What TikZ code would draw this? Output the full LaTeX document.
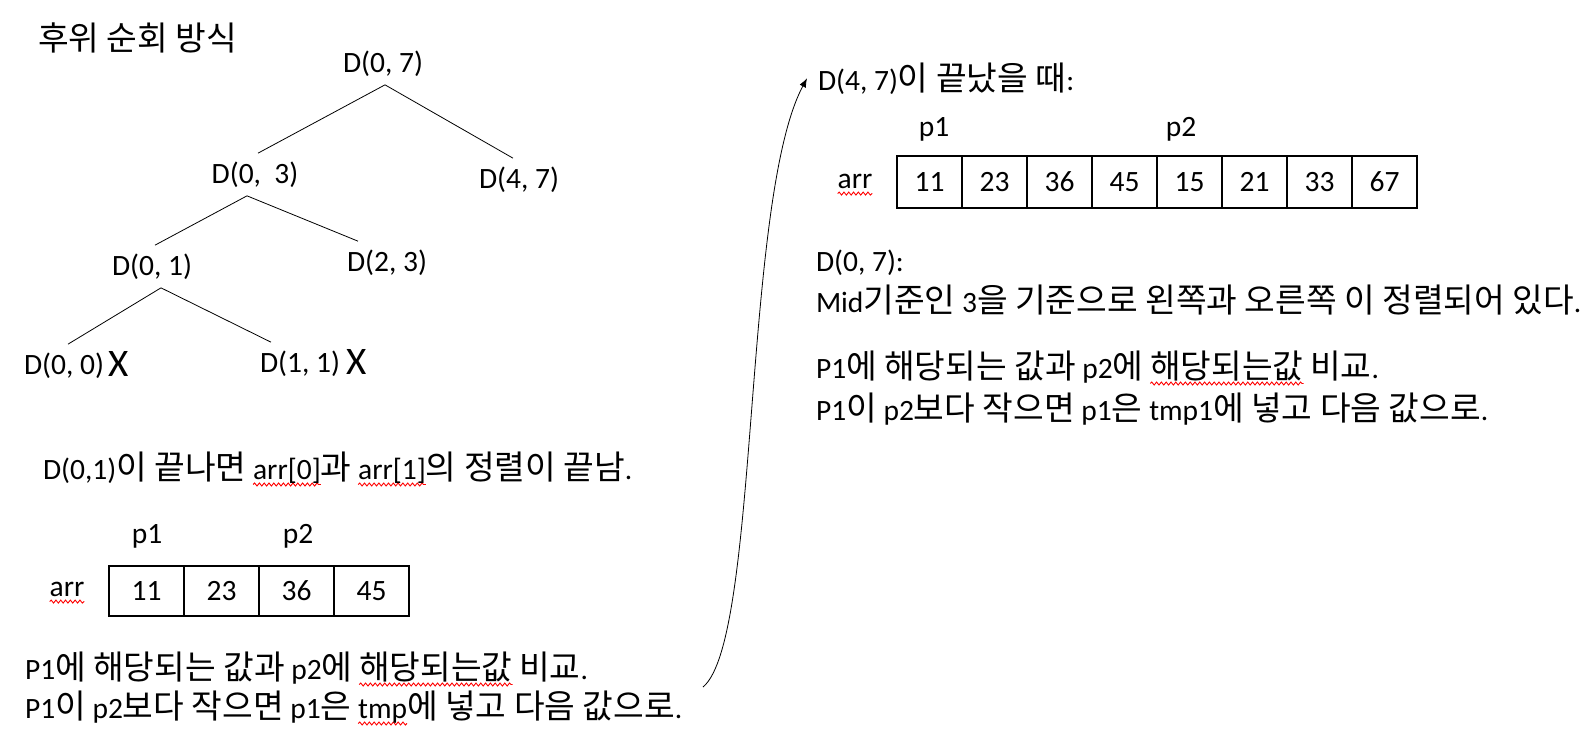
\documentclass[tikz,border=0pt]{standalone}
\usepackage{fontspec}
\setmainfont{Carlito}
\newfontfamily\krfont[Scale=1.13]{Noto Sans CJK KR}
\usetikzlibrary{arrows.meta,decorations.pathmorphing}
\newcommand\hk[1]{{\krfont #1}}
\newcommand\bodyfont{\fontsize{29.5}{38}\selectfont}
\newlength\rwlen
\newcommand\rw[1]{\settowidth\rwlen{#1}\rlap{\tikz[overlay]\draw[red,line width=0.9pt,decorate,decoration={snake,amplitude=1.5pt,segment length=4.8pt}] (0pt,-5.5pt) -- (\rwlen,-5.5pt);}#1}
\begin{document}
\begin{tikzpicture}[x=1pt,y=-1pt,
  lbl/.style={inner sep=0pt,outer sep=0pt,font=\bodyfont},
  tnode/.style={inner sep=0pt,outer sep=0pt,font=\bodyfont},
  xmark/.style={inner sep=0pt,outer sep=0pt,font=\fontsize{39}{42}\selectfont},
  conn/.style={line width=0.8pt},
  cellA/.style={draw,line width=1.2pt,minimum width=75pt,minimum height=50pt,inner sep=0pt,outer sep=0pt,font=\bodyfont},
  cellB/.style={cellA,minimum width=65pt,minimum height=52pt}]
\fill[white] (0,0) rectangle (1594,740);
\useasboundingbox (0,0) rectangle (1594,740);

% title
\node[lbl,anchor=base west] (title) at (38,50) {\fontsize{29.5}{36}\selectfont\hk{후위 순회 방식}};

% tree
\node[tnode] (r) at (383,64) {D(0, 7)};
\node[tnode] (a) at (255,175) {D(0,\ \ 3)};
\node[tnode] (b) at (519,180) {D(4, 7)};
\node[tnode] (c) at (152,267) {D(0, 1)};
\node[tnode] (d) at (387,263) {D(2, 3)};
\node[tnode] (e) at (64,366) {D(0, 0)};
\node[xmark] (ex) at (119,364) {X};
\node[tnode] (f) at (300,364) {D(1, 1)};
\node[xmark] (fx) at (357,362) {X};

\draw[conn] ([shift={(2,8)}]r.south) -- ([shift={(3,-9)}]a.north);
\draw[conn] ([shift={(2,8)}]r.south) -- ([shift={(-6,-9)}]b.north);
\draw[conn] ([shift={(-8,8)}]a.south) -- ([shift={(3,-9)}]c.north);
\draw[conn] ([shift={(-8,8)}]a.south) -- ([shift={(-29,-9)}]d.north);
\draw[conn] ([shift={(9,8)}]c.south) -- ([shift={(4,-9)}]e.north);
\draw[conn] ([shift={(9,8)}]c.south) -- ([shift={(-29,-9)}]f.north);

% left text
\node[lbl,anchor=base west] (t1) at (43,479) {D(0,1)\hk{이 끝나면} \rw{arr[0]}\hk{과} \rw{arr[1]}\hk{의 정렬이 끝남}.};

\node[lbl] (lp1) at (147,536) {p1};
\node[lbl] (lp2) at (298,536) {p2};
\node[lbl] (larr) at (67,589) {\rw{arr}};
\node[cellA] (l1) at (146.5,591) {11};
\node[cellA] (l2) at (221.5,591) {23};
\node[cellA] (l3) at (296.5,591) {36};
\node[cellA] (l4) at (371.5,591) {45};

\node[lbl,anchor=base west] (t2) at (25,679) {P1\hk{에 해당되는 값과} p2\hk{에} \rw{\hk{해당되는값}} \hk{비교}.};
\node[lbl,anchor=base west] (t3) at (25,718) {P1\hk{이} p2\hk{보다 작으면} p1\hk{은} \rw{tmp}\hk{에 넣고 다음 값으로}.};

% right text
\node[lbl,anchor=base west] (rt) at (818,90) {D(4, 7)\hk{이 끝났을 때}:};
\node[lbl] (rp1) at (934,129) {p1};
\node[lbl] (rp2) at (1181,129) {p2};
\node[lbl] (rarr) at (855,181) {\rw{arr}};
\node[cellB] (r1) at (929.5,182) {11};
\node[cellB] (r2) at (994.5,182) {23};
\node[cellB] (r3) at (1059.5,182) {36};
\node[cellB] (r4) at (1124.5,182) {45};
\node[cellB] (r5) at (1189.5,182) {15};
\node[cellB] (r6) at (1254.5,182) {21};
\node[cellB] (r7) at (1319.5,182) {33};
\node[cellB] (r8) at (1384.5,182) {67};

\node[lbl,anchor=base west] (rt2) at (816,271) {D(0, 7):};
\node[lbl,anchor=base west] (rt3) at (816,312) {Mid\hk{기준인} 3\hk{을 기준으로 왼쪽과 오른쪽 이 정렬되어 있다}.};
\node[lbl,anchor=base west] (rt4) at (816,378) {P1\hk{에 해당되는 값과} p2\hk{에} \rw{\hk{해당되는값}} \hk{비교}.};
\node[lbl,anchor=base west] (rt5) at (816,420) {P1\hk{이} p2\hk{보다 작으면} p1\hk{은} tmp1\hk{에 넣고 다음 값으로}.};

% curved arrow
\coordinate (cs) at (703,687);
\draw[conn,-{Latex[length=9pt,width=7pt]}] (cs) .. controls (760,640) and (742,200) .. ([shift={(-11,0)}]rt.west);
\end{tikzpicture}
\end{document}
